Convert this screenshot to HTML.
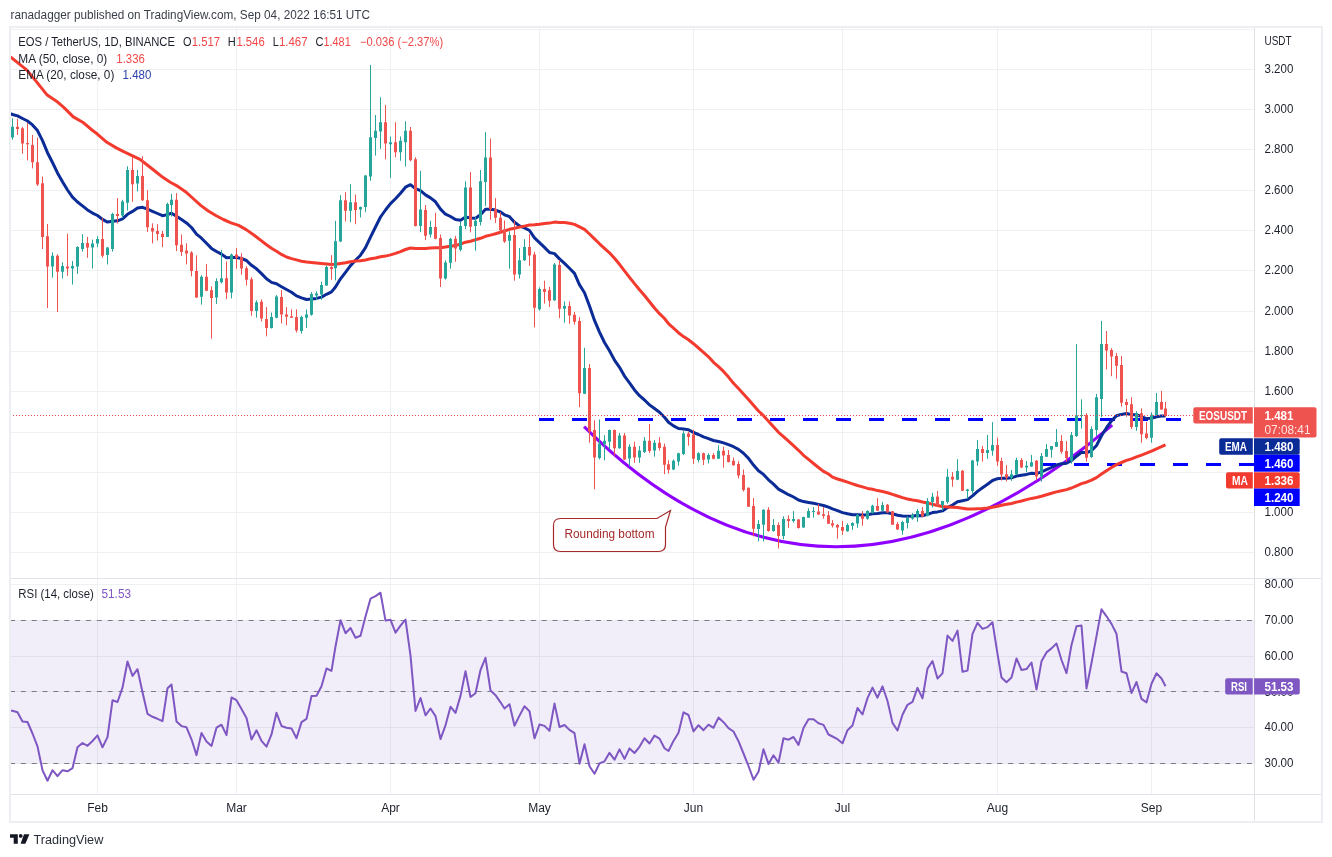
<!DOCTYPE html>
<html><head><meta charset="utf-8"><title>EOS / TetherUS chart</title>
<style>html,body{margin:0;padding:0;background:#fff;}body{width:1332px;height:857px;overflow:hidden;}svg{display:block;}</style>
</head><body>
<svg width="1332" height="857" viewBox="0 0 1332 857" font-family="Liberation Sans, Arial, sans-serif">
<defs>
<clipPath id="cm"><rect x="10" y="27" width="1244" height="551"/></clipPath>
<clipPath id="cr"><rect x="10" y="579" width="1244" height="215"/></clipPath>
</defs>
<rect width="1332" height="857" fill="#ffffff"/>
<path d="M10 29.5H1254M10 69.5H1254M10 109.5H1254M10 149.5H1254M10 190.5H1254M10 230.5H1254M10 270.5H1254M10 311.5H1254M10 351.5H1254M10 391.5H1254M10 432.5H1254M10 472.5H1254M10 512.5H1254M10 552.5H1254M10 584.5H1254M10 620.5H1254M10 656.5H1254M10 691.5H1254M10 727.5H1254M10 763.5H1254M97.5 27V794M236.5 27V794M390.5 27V794M539.5 27V794M693.5 27V794M842.5 27V794M997.5 27V794M1151.5 27V794" stroke="#eff0f2" stroke-width="1" fill="none"/>
<rect x="10" y="620.5" width="1244" height="143.0" fill="#7e57c2" fill-opacity="0.1"/>
<path d="M10 620.5H1254M10 691.5H1254M10 763.5H1254" stroke="#787b86" stroke-width="1" stroke-dasharray="5 5.85" fill="none"/>
<g clip-path="url(#cm)">
<path d="M539 419.5H1181" stroke="#0000ff" stroke-width="3" stroke-dasharray="15 18" fill="none"/>
<path d="M1041 464.5H1254" stroke="#0000ff" stroke-width="3" stroke-dasharray="15 18" fill="none"/>
<path d="M584.1 426.6Q826.1 667.6 1112.2 425.1" stroke="#9000ff" stroke-width="3" fill="none" stroke-linecap="butt"/>
<polyline points="8.1,113.0 12.5,114.5 17.5,115.9 22.5,118.5 27.5,121.0 32.5,124.9 37.5,130.6 42.5,140.7 47.5,152.7 52.5,162.5 57.5,172.9 62.5,181.7 67.5,190.0 72.5,197.2 77.5,202.0 82.5,205.9 87.5,209.9 92.5,213.1 97.5,215.5 102.5,219.4 107.5,222.1 112.5,221.3 117.5,220.8 122.5,218.9 127.5,214.3 132.5,211.4 137.5,208.0 142.5,207.3 147.5,209.2 152.5,211.3 157.5,213.5 162.5,215.7 167.5,214.6 171.5,213.2 176.5,216.2 181.5,219.6 186.5,222.9 191.5,227.5 196.5,234.1 201.5,238.2 206.5,243.2 211.5,248.4 216.5,251.5 221.5,254.1 226.5,257.8 231.5,257.4 236.5,257.5 241.5,258.5 246.5,260.5 251.5,265.3 256.5,268.8 261.5,273.6 266.5,278.8 271.5,282.4 276.5,283.7 281.5,286.7 286.5,289.5 291.5,292.2 296.5,295.9 301.5,297.9 306.5,299.5 311.5,298.9 316.5,298.4 321.5,297.1 326.5,294.3 331.5,291.9 335.5,287.0 340.5,278.8 345.5,272.3 350.5,265.6 355.5,260.3 360.5,255.2 365.5,247.7 370.5,237.2 375.5,227.0 380.5,217.0 385.5,210.0 390.5,203.6 395.5,198.7 400.5,193.2 405.5,187.2 410.5,184.7 415.5,188.6 420.5,190.6 425.5,194.9 430.5,197.9 435.5,201.8 440.5,209.1 445.5,214.2 450.5,216.5 455.5,219.6 460.5,220.2 465.5,217.1 470.5,218.0 475.5,218.3 480.5,214.8 485.5,209.3 490.5,209.3 495.5,210.1 500.5,212.0 504.5,214.8 509.5,216.7 514.5,222.2 519.5,225.9 524.5,227.9 529.5,230.5 534.5,237.9 539.5,242.7 544.5,247.4 549.5,252.5 554.5,253.6 559.5,258.9 564.5,263.4 569.5,268.3 574.5,273.4 579.5,284.8 584.5,292.7 589.5,306.0 594.5,320.4 599.5,332.1 604.5,342.5 609.5,350.8 614.5,360.1 619.5,367.3 624.5,376.1 629.5,382.8 634.5,389.9 639.5,395.7 644.5,400.0 649.5,404.9 654.5,408.5 659.5,412.2 664.5,417.2 668.5,422.2 673.5,425.9 678.5,428.5 683.5,429.0 688.5,429.7 693.5,432.5 698.5,434.5 703.5,436.9 708.5,438.6 713.5,440.5 718.5,441.5 723.5,442.9 728.5,444.7 733.5,446.7 738.5,449.4 743.5,453.3 748.5,458.4 753.5,465.1 758.5,470.7 763.5,474.4 768.5,479.8 773.5,484.1 778.5,489.1 783.5,491.9 788.5,494.7 793.5,497.0 798.5,500.0 803.5,501.6 808.5,502.5 813.5,503.3 818.5,504.4 823.5,505.5 828.5,507.2 832.5,508.9 837.5,510.7 842.5,512.6 847.5,513.8 852.5,514.7 857.5,514.7 862.5,515.1 867.5,514.7 872.5,513.8 877.5,513.5 882.5,512.7 887.5,512.7 892.5,513.8 897.5,515.3 902.5,516.0 907.5,516.2 912.5,516.0 917.5,515.6 922.5,515.7 927.5,514.3 932.5,512.6 937.5,511.9 942.5,510.9 947.5,507.6 952.5,505.0 957.5,501.7 962.5,500.7 967.5,499.6 972.5,495.9 977.5,491.4 982.5,487.8 987.5,484.2 992.5,480.5 997.5,478.7 1001.5,478.3 1006.5,478.2 1011.5,477.8 1016.5,476.1 1021.5,475.3 1026.5,474.4 1031.5,473.3 1036.5,473.6 1041.5,471.9 1046.5,469.7 1051.5,467.5 1056.5,465.0 1061.5,463.8 1066.5,463.2 1071.5,460.5 1076.5,456.2 1081.5,452.3 1086.5,452.8 1091.5,450.6 1096.5,445.5 1101.5,435.8 1106.5,427.7 1111.5,420.9 1116.5,415.7 1121.5,414.4 1126.5,413.5 1131.5,414.8 1136.5,414.7 1141.5,416.6 1146.5,418.6 1151.5,418.2 1156.5,416.7 1161.5,416.0 1165.5,416.0" stroke="#0b2b97" stroke-width="3" fill="none" stroke-linejoin="round"/>
<polyline points="8.0,55.5 10.8,57.2 17.3,62.4 26.7,69.9 36.0,81.1 47.2,95.1 56.5,101.2 64.0,107.6 73.3,116.9 82.7,122.2 92.0,130.0 97.6,134.3 106.9,142.3 116.3,147.9 123.7,151.7 133.1,156.1 140.0,159.4 147.6,165.2 155.2,171.2 162.8,177.3 170.3,182.2 177.9,186.4 185.5,191.7 193.1,198.5 200.7,205.4 208.3,211.0 215.8,215.5 223.4,219.5 231.0,222.8 238.6,225.4 246.2,229.6 253.8,235.0 256.5,237.0 261.5,240.9 266.5,244.8 271.5,248.3 276.5,251.3 281.5,254.4 286.5,257.0 291.5,258.6 296.5,259.9 301.5,261.2 306.5,262.0 311.5,262.6 316.5,263.1 321.5,263.5 326.5,263.9 331.5,264.4 335.5,264.2 340.5,263.4 345.5,262.8 350.5,261.7 355.5,261.0 360.5,260.8 365.5,260.0 370.5,258.8 375.5,258.0 380.5,256.7 385.5,256.1 390.5,254.9 395.5,253.4 400.5,251.6 405.5,249.5 410.5,248.0 415.5,248.5 420.5,248.6 425.5,248.5 430.5,248.0 435.5,247.7 440.5,247.8 445.5,247.1 450.5,246.3 455.5,245.5 460.5,244.1 465.5,242.2 470.5,241.2 475.5,239.7 480.5,238.3 485.5,236.3 490.5,235.1 495.5,233.8 500.5,232.2 504.5,231.0 509.5,229.3 514.5,228.3 519.5,227.1 524.5,226.1 529.5,225.0 534.5,224.8 539.5,224.2 544.5,223.4 549.5,223.1 554.5,222.1 559.5,222.4 564.5,222.6 569.5,223.3 574.5,224.4 579.5,226.8 584.5,229.4 589.5,234.0 594.5,238.9 599.5,243.8 604.5,248.4 609.5,252.8 614.5,258.3 619.5,264.3 624.5,270.8 629.5,277.3 634.5,283.6 639.5,289.8 644.5,295.5 649.5,301.7 654.5,308.0 659.5,313.7 664.5,318.5 668.5,323.7 673.5,328.2 678.5,332.7 683.5,336.6 688.5,339.8 693.5,343.7 698.5,348.0 703.5,352.3 708.5,356.8 713.5,362.3 718.5,366.7 723.5,371.4 728.5,377.1 733.5,383.2 738.5,388.5 743.5,394.0 748.5,399.5 753.5,405.3 758.5,411.0 763.5,415.7 768.5,421.2 773.5,426.7 778.5,432.3 783.5,436.6 788.5,441.2 793.5,445.7 798.5,450.3 803.5,455.3 808.5,459.4 813.5,463.5 818.5,467.5 823.5,471.4 828.5,474.0 832.5,477.1 837.5,479.0 842.5,480.5 847.5,482.1 852.5,483.8 857.5,485.5 862.5,486.9 867.5,488.4 872.5,489.3 877.5,490.6 882.5,491.5 887.5,492.8 892.5,494.4 897.5,496.0 902.5,497.6 907.5,499.0 912.5,500.0 917.5,500.8 922.5,502.0 927.5,502.9 932.5,504.2 937.5,505.5 942.5,506.4 947.5,506.9 952.5,507.3 957.5,507.6 962.5,508.2 967.5,509.0 972.5,509.1 977.5,508.8 982.5,508.6 987.5,508.1 992.5,507.2 997.5,506.3 1001.5,505.2 1006.5,504.3 1011.5,503.5 1016.5,502.1 1021.5,501.0 1026.5,499.6 1031.5,498.4 1036.5,497.5 1041.5,496.3 1046.5,494.7 1051.5,493.3 1056.5,491.9 1061.5,490.7 1066.5,489.6 1071.5,488.0 1076.5,485.8 1081.5,483.6 1086.5,482.2 1091.5,480.2 1096.5,477.6 1101.5,474.0 1106.5,470.7 1111.5,467.5 1116.5,464.6 1121.5,462.5 1126.5,460.4 1131.5,458.9 1136.5,456.9 1141.5,455.1 1146.5,453.2 1151.5,451.1 1156.5,448.8 1161.5,446.7 1165.5,444.8" stroke="#f33a2e" stroke-width="3" fill="none" stroke-linejoin="round"/>
<path d="M12.5 118.3V139.7M52.5 252.4V277.7M62.5 262.4V278.5M72.5 261.0V284.6M77.5 246.3V273.9M82.5 234.2V251.6M92.5 239.6V268.5M97.5 236.3V247.1M107.5 247.1V264.5M112.5 212.7V251.6M122.5 199.8V218.1M127.5 166.3V210.6M137.5 169.9V191.4M167.5 202.7V236.9M171.5 193.8V216.6M201.5 275.2V304.6M216.5 278.3V303.9M221.5 250.0V283.5M231.5 253.6V298.4M256.5 300.3V317.7M271.5 312.5V328.6M276.5 295.1V318.2M301.5 315.7V333.6M306.5 309.4V327.9M311.5 292.1V315.7M316.5 291.3V299.8M321.5 281.7V299.8M326.5 265.7V285.9M335.5 220.8V280.5M340.5 195.1V242.2M350.5 184.2V222.2M360.5 206.5V217.4M365.5 175.1V212.2M370.5 65.0V180.8M375.5 115.0V155.6M380.5 97.3V148.8M390.5 136.5V177.9M400.5 136.5V160.8M405.5 121.3V166.5M420.5 170.8V232.2M430.5 220.8V237.6M445.5 260.3V279.6M450.5 238.0V268.7M460.5 221.9V251.3M465.5 181.3V229.2M475.5 217.0V250.6M480.5 170.0V225.4M485.5 132.2V206.1M509.5 231.3V268.7M519.5 248.1V278.6M524.5 239.2V261.0M539.5 287.4V310.6M554.5 263.0V300.8M564.5 301.4V322.7M584.5 347.8V394.1M599.5 419.4V459.5M604.5 435.2V460.4M609.5 429.6V449.2M619.5 433.0V448.7M629.5 444.2V466.6M639.5 446.0V462.9M644.5 437.1V453.0M654.5 439.9V456.7M673.5 459.4V470.0M678.5 452.7V465.7M683.5 430.8V455.1M698.5 452.3V462.5M708.5 453.2V463.5M718.5 445.2V459.0M758.5 520.1V541.5M763.5 509.3V541.5M773.5 519.1V531.7M783.5 516.3V539.4M793.5 511.1V522.6M803.5 516.7V527.9M808.5 508.3V517.7M813.5 507.2V517.7M847.5 523.3V531.7M852.5 522.2V529.9M857.5 514.1V527.8M867.5 510.3V519.7M872.5 504.7V513.5M882.5 501.9V511.3M902.5 520.8V534.8M907.5 516.3V528.5M912.5 513.1V519.7M917.5 508.9V521.9M927.5 498.1V516.3M932.5 492.8V507.5M942.5 500.8V510.6M947.5 468.9V503.6M957.5 459.1V480.1M967.5 488.9V498.7M972.5 459.9V493.5M977.5 439.9V465.8M987.5 435.0V458.8M992.5 422.1V455.7M1011.5 470.0V480.9M1016.5 457.7V474.9M1026.5 460.9V472.1M1031.5 454.9V466.9M1041.5 453.1V481.7M1046.5 444.1V456.8M1051.5 446.1V457.7M1056.5 429.0V447.0M1071.5 432.0V463.7M1076.5 344.1V437.0M1081.5 399.3V428.6M1091.5 426.4V457.9M1096.5 394.0V436.0M1101.5 320.9V417.1M1136.5 411.2V430.8M1151.5 412.4V442.7M1156.5 393.1V415.9" stroke="#26a69a" stroke-width="1" fill="none"/>
<path d="M11 126.8h3V137.6h-3ZM51 255.7h3V266.4h-3ZM61 265.9h3V271.8h-3ZM71 265.9h3V268.5h-3ZM76 247.1h3V266.4h-3ZM81 243.0h3V249.0h-3ZM91 243.6h3V247.6h-3ZM96 239.0h3V243.6h-3ZM106 247.6h3V255.1h-3ZM111 214.1h3V249.0h-3ZM121 201.4h3V215.4h-3ZM126 169.9h3V202.7h-3ZM136 175.9h3V183.5h-3ZM166 204.1h3V236.9h-3ZM170 199.8h3V205.1h-3ZM200 276.8h3V296.7h-3ZM215 281.1h3V297.4h-3ZM220 278.3h3V282.3h-3ZM230 254.4h3V292.6h-3ZM255 302.3h3V310.9h-3ZM270 317.1h3V327.9h-3ZM275 296.5h3V317.7h-3ZM300 317.1h3V331.1h-3ZM305 314.4h3V317.7h-3ZM310 294.0h3V314.8h-3ZM315 293.6h3V295.5h-3ZM320 284.9h3V294.6h-3ZM325 267.0h3V285.5h-3ZM334 241.2h3V268.2h-3ZM339 200.2h3V241.4h-3ZM349 202.2h3V210.8h-3ZM359 207.1h3V209.4h-3ZM364 175.6h3V207.1h-3ZM369 137.3h3V176.5h-3ZM374 130.8h3V137.9h-3ZM379 122.2h3V131.6h-3ZM389 142.2h3V144.2h-3ZM399 140.8h3V152.2h-3ZM404 130.8h3V142.2h-3ZM419 209.4h3V226.0h-3ZM429 227.1h3V234.5h-3ZM444 262.4h3V278.6h-3ZM449 238.7h3V262.8h-3ZM459 226.1h3V249.8h-3ZM464 187.6h3V226.1h-3ZM474 220.8h3V226.1h-3ZM479 181.3h3V221.9h-3ZM484 157.4h3V182.0h-3ZM508 235.1h3V240.8h-3ZM518 260.3h3V274.4h-3ZM523 247.0h3V260.2h-3ZM538 289.1h3V309.2h-3ZM553 264.4h3V300.3h-3ZM563 305.9h3V308.7h-3ZM583 368.0h3V393.8h-3ZM598 443.6h3V458.0h-3ZM603 440.8h3V444.2h-3ZM608 430.0h3V441.8h-3ZM618 435.6h3V448.3h-3ZM628 446.8h3V458.6h-3ZM638 450.5h3V457.6h-3ZM643 440.8h3V452.0h-3ZM653 442.7h3V450.5h-3ZM672 460.7h3V469.5h-3ZM677 453.2h3V461.6h-3ZM682 433.6h3V454.1h-3ZM697 453.2h3V460.1h-3ZM707 455.1h3V459.4h-3ZM717 450.8h3V458.8h-3ZM757 524.0h3V528.9h-3ZM762 509.7h3V524.7h-3ZM772 525.1h3V531.0h-3ZM782 519.1h3V535.9h-3ZM792 519.1h3V520.9h-3ZM802 517.0h3V527.5h-3ZM807 511.1h3V517.7h-3ZM812 511.1h3V512.1h-3ZM846 525.0h3V531.3h-3ZM851 522.9h3V525.7h-3ZM856 514.9h3V523.6h-3ZM866 511.0h3V518.7h-3ZM871 505.7h3V513.1h-3ZM881 505.1h3V510.7h-3ZM901 521.9h3V530.6h-3ZM906 518.0h3V522.9h-3ZM911 514.9h3V518.7h-3ZM916 511.0h3V517.3h-3ZM926 500.9h3V515.9h-3ZM931 496.7h3V501.9h-3ZM941 501.1h3V505.0h-3ZM946 476.7h3V501.9h-3ZM956 471.1h3V479.8h-3ZM966 489.6h3V491.0h-3ZM971 460.5h3V491.0h-3ZM976 449.0h3V461.6h-3ZM986 450.1h3V452.9h-3ZM991 445.1h3V450.7h-3ZM1010 474.2h3V477.7h-3ZM1015 459.9h3V474.5h-3ZM1025 465.8h3V467.5h-3ZM1030 462.3h3V466.5h-3ZM1040 455.9h3V476.8h-3ZM1045 449.0h3V456.8h-3ZM1050 446.1h3V449.8h-3ZM1055 442.1h3V446.8h-3ZM1070 435.0h3V460.8h-3ZM1075 415.5h3V436.0h-3ZM1080 414.9h3V415.9h-3ZM1090 429.0h3V457.0h-3ZM1095 397.2h3V429.9h-3ZM1100 344.1h3V398.9h-3ZM1135 413.6h3V426.9h-3ZM1150 414.7h3V437.8h-3ZM1155 401.9h3V415.0h-3Z" fill="#26a69a"/>
<path d="M17.5 118.8V134.9M22.5 126.8V153.7M27.5 122.8V160.4M32.5 134.9V168.4M37.5 137.6V185.9M42.5 176.5V249.0M47.5 224.0V308.0M57.5 254.3V312.0M67.5 233.7V275.8M87.5 236.9V257.8M102.5 218.1V257.8M117.5 198.0V223.5M132.5 156.7V201.7M142.5 156.3V201.0M147.5 190.2V232.1M152.5 223.3V243.3M157.5 224.2V240.5M162.5 230.9V247.2M176.5 193.1V251.2M181.5 234.5V256.0M186.5 243.3V264.4M191.5 251.2V276.4M196.5 255.3V297.9M206.5 263.9V291.2M211.5 286.4V338.6M226.5 261.5V299.1M236.5 248.1V268.7M241.5 253.2V274.7M246.5 266.3V285.5M251.5 277.2V315.7M261.5 299.4V321.5M266.5 307.1V336.3M281.5 290.1V323.4M286.5 307.1V325.4M291.5 309.4V317.7M296.5 309.4V332.5M331.5 255.1V279.7M345.5 192.2V221.4M355.5 194.5V224.2M385.5 105.0V159.3M395.5 122.2V157.3M410.5 127.0V161.3M415.5 157.3V226.5M425.5 205.1V240.2M435.5 212.8V239.3M440.5 234.5V287.0M455.5 235.9V261.8M470.5 172.1V232.4M490.5 138.5V219.8M495.5 198.1V222.9M500.5 212.0V233.4M504.5 220.4V242.9M514.5 220.8V280.7M529.5 234.2V265.8M534.5 251.8V327.4M544.5 280.6V303.6M549.5 286.8V307.0M559.5 260.2V318.2M569.5 301.4V323.8M574.5 312.0V324.6M579.5 317.1V407.2M589.5 363.9V442.7M594.5 420.3V489.4M614.5 429.6V455.8M624.5 433.0V459.9M634.5 441.8V462.9M649.5 424.0V453.0M659.5 437.1V450.5M664.5 443.6V474.1M668.5 460.4V473.5M688.5 431.7V445.7M693.5 429.9V463.9M703.5 452.7V465.0M713.5 453.2V459.4M723.5 446.7V467.6M728.5 450.0V462.5M733.5 457.5V465.7M738.5 461.2V478.4M743.5 469.5V491.5M748.5 487.4V506.8M753.5 498.0V536.3M768.5 507.2V531.7M778.5 522.3V548.5M788.5 515.3V527.9M798.5 519.1V528.5M818.5 504.1V514.9M823.5 507.2V518.7M828.5 511.1V524.0M832.5 520.1V527.5M837.5 524.0V538.7M842.5 520.9V534.9M862.5 511.0V525.7M877.5 498.1V510.7M887.5 504.0V512.7M892.5 511.0V524.7M897.5 521.9V529.9M922.5 507.1V516.9M937.5 491.0V506.4M952.5 472.1V486.8M962.5 470.0V491.0M982.5 445.9V461.6M997.5 437.8V465.8M1001.5 457.7V480.5M1006.5 465.1V481.5M1021.5 458.1V467.9M1036.5 460.0V480.5M1061.5 435.1V453.7M1066.5 441.1V461.7M1086.5 413.2V461.8M1106.5 331.0V369.5M1111.5 348.2V376.2M1116.5 352.9V378.6M1121.5 355.9V406.6M1126.5 398.9V416.8M1131.5 397.2V429.0M1141.5 408.4V442.7M1146.5 422.0V439.2M1161.5 390.9V410.1M1165.5 401.9V417.1" stroke="#ef5350" stroke-width="1" fill="none"/>
<path d="M16 126.8h3V129.0h-3ZM21 128.2h3V143.5h-3ZM26 142.9h3V144.3h-3ZM31 145.1h3V162.3h-3ZM36 162.3h3V184.5h-3ZM41 183.2h3V236.9h-3ZM46 236.3h3V266.4h-3ZM56 255.7h3V271.8h-3ZM66 266.4h3V268.5h-3ZM86 243.0h3V247.6h-3ZM101 239.0h3V255.7h-3ZM116 214.1h3V215.9h-3ZM131 169.9h3V184.3h-3ZM141 175.9h3V200.3h-3ZM146 200.3h3V227.3h-3ZM151 228.0h3V231.4h-3ZM156 230.9h3V234.0h-3ZM161 233.8h3V236.9h-3ZM175 199.8h3V245.3h-3ZM180 244.8h3V252.0h-3ZM185 250.5h3V253.6h-3ZM190 252.4h3V271.1h-3ZM195 271.1h3V297.4h-3ZM205 276.8h3V290.7h-3ZM210 290.2h3V297.9h-3ZM225 278.3h3V292.6h-3ZM235 254.4h3V257.7h-3ZM240 257.0h3V268.6h-3ZM245 268.2h3V279.7h-3ZM250 279.2h3V310.9h-3ZM260 301.7h3V318.6h-3ZM265 319.0h3V327.9h-3ZM280 297.1h3V314.4h-3ZM285 314.4h3V316.7h-3ZM290 316.3h3V317.7h-3ZM295 317.1h3V330.6h-3ZM330 267.0h3V268.9h-3ZM344 200.2h3V210.8h-3ZM354 202.2h3V209.9h-3ZM384 122.2h3V143.6h-3ZM394 142.2h3V152.2h-3ZM409 130.8h3V160.2h-3ZM414 159.3h3V226.0h-3ZM424 209.9h3V235.7h-3ZM434 227.1h3V238.7h-3ZM439 238.0h3V278.6h-3ZM454 238.7h3V248.5h-3ZM469 187.6h3V226.7h-3ZM489 157.4h3V209.3h-3ZM494 209.3h3V217.7h-3ZM499 217.7h3V230.3h-3ZM503 229.2h3V241.4h-3ZM513 235.1h3V274.4h-3ZM528 247.0h3V255.4h-3ZM533 254.6h3V307.8h-3ZM543 289.1h3V291.9h-3ZM548 290.2h3V300.8h-3ZM558 265.0h3V308.7h-3ZM568 305.9h3V315.4h-3ZM573 314.8h3V321.8h-3ZM578 321.0h3V393.2h-3ZM588 368.0h3V431.5h-3ZM593 430.0h3V457.6h-3ZM613 430.0h3V448.3h-3ZM623 435.6h3V459.5h-3ZM633 446.8h3V457.6h-3ZM648 440.8h3V451.1h-3ZM658 442.7h3V447.9h-3ZM663 446.8h3V464.7h-3ZM667 464.2h3V469.8h-3ZM687 433.6h3V437.0h-3ZM692 434.5h3V458.8h-3ZM702 453.2h3V459.7h-3ZM712 455.1h3V458.8h-3ZM722 450.8h3V455.6h-3ZM727 455.1h3V462.0h-3ZM732 460.7h3V465.3h-3ZM737 463.9h3V475.6h-3ZM742 475.1h3V490.0h-3ZM747 487.8h3V506.8h-3ZM752 506.0h3V528.8h-3ZM767 509.7h3V531.0h-3ZM777 525.1h3V535.9h-3ZM787 519.1h3V520.9h-3ZM797 519.5h3V527.9h-3ZM817 511.4h3V514.5h-3ZM822 514.2h3V515.9h-3ZM827 515.3h3V523.7h-3ZM831 523.3h3V525.4h-3ZM836 525.1h3V527.5h-3ZM841 527.1h3V530.7h-3ZM861 515.2h3V518.7h-3ZM876 506.1h3V510.7h-3ZM886 504.7h3V512.4h-3ZM891 511.3h3V524.7h-3ZM896 523.9h3V529.5h-3ZM921 511.0h3V516.6h-3ZM936 496.6h3V505.7h-3ZM951 476.7h3V479.5h-3ZM961 470.7h3V490.7h-3ZM981 449.0h3V452.9h-3ZM996 445.1h3V461.6h-3ZM1000 460.9h3V474.5h-3ZM1005 474.2h3V477.7h-3ZM1020 459.9h3V467.5h-3ZM1035 460.8h3V476.5h-3ZM1060 441.1h3V451.7h-3ZM1065 451.0h3V458.0h-3ZM1085 415.1h3V457.8h-3ZM1105 344.1h3V350.6h-3ZM1110 349.9h3V356.4h-3ZM1115 355.9h3V365.7h-3ZM1120 365.1h3V402.8h-3ZM1125 401.9h3V404.9h-3ZM1130 404.2h3V426.9h-3ZM1140 413.3h3V434.3h-3ZM1145 433.4h3V438.1h-3ZM1160 401.9h3V409.4h-3ZM1164 408.4h3V415.9h-3Z" fill="#ef5350"/>
</g>
<path d="M10 415.5H1193" stroke="#ef5350" stroke-width="1" stroke-dasharray="1 2" fill="none"/>
<path d="M560.5 518.5H657L670.5 510.5L665.5 527V544.5Q665.5 551.5 658.5 551.5H560.5Q553.5 551.5 553.5 544.5V525.5Q553.5 518.5 560.5 518.5Z" fill="#ffffff" stroke="#a52a2a" stroke-width="1.2"/>
<text x="564.5" y="538" font-size="12" fill="#a52a2a" textLength="90" lengthAdjust="spacingAndGlyphs">Rounding bottom</text>
<g clip-path="url(#cr)">
<polyline points="8.1,710.8 12.5,710.8 17.5,712.2 22.5,721.5 27.5,722.0 32.5,733.5 37.5,746.4 42.5,770.2 47.5,780.7 52.5,770.2 57.5,776.2 62.5,770.2 67.5,771.3 72.5,768.2 77.5,747.3 82.5,743.0 87.5,745.8 92.5,741.0 97.5,735.4 102.5,747.3 107.5,737.1 112.5,700.3 117.5,702.0 122.5,687.7 127.5,661.5 132.5,675.9 137.5,669.2 142.5,692.3 147.5,713.8 152.5,716.8 157.5,718.8 162.5,721.1 167.5,688.3 171.5,684.5 176.5,721.5 181.5,726.1 186.5,727.3 191.5,739.3 196.5,755.1 201.5,732.9 206.5,741.5 211.5,745.9 216.5,727.7 221.5,724.7 226.5,735.1 231.5,697.5 236.5,700.2 241.5,709.1 246.5,717.9 251.5,739.4 256.5,730.3 261.5,740.9 266.5,746.7 271.5,734.4 276.5,712.8 281.5,726.0 286.5,727.7 291.5,728.4 296.5,738.2 301.5,722.1 306.5,718.9 311.5,696.1 316.5,695.7 321.5,686.3 326.5,668.5 331.5,670.9 335.5,646.5 340.5,620.2 345.5,633.2 350.5,628.0 355.5,637.8 360.5,635.8 365.5,616.5 370.5,598.7 375.5,596.1 380.5,592.7 385.5,620.6 390.5,619.8 395.5,632.7 400.5,625.6 405.5,619.6 410.5,655.7 415.5,710.9 420.5,698.0 425.5,715.3 430.5,708.5 435.5,716.1 440.5,739.1 445.5,725.3 450.5,706.7 455.5,712.9 460.5,695.9 465.5,671.2 470.5,697.0 475.5,693.2 480.5,670.0 485.5,657.8 490.5,690.5 495.5,695.2 500.5,702.3 504.5,708.5 509.5,704.2 514.5,725.7 519.5,715.6 524.5,706.3 529.5,711.3 534.5,738.3 539.5,724.5 544.5,725.9 549.5,730.7 554.5,703.6 559.5,727.0 564.5,725.0 569.5,729.9 574.5,733.2 579.5,763.7 584.5,744.2 589.5,766.2 594.5,773.7 599.5,763.4 604.5,761.3 609.5,752.8 614.5,759.7 619.5,749.4 624.5,758.9 629.5,748.4 634.5,753.0 639.5,746.8 644.5,738.2 649.5,743.5 654.5,735.6 659.5,738.6 664.5,748.2 668.5,751.0 673.5,740.9 678.5,732.7 683.5,712.3 688.5,715.0 693.5,731.4 698.5,725.2 703.5,730.2 708.5,724.7 713.5,727.8 718.5,717.6 723.5,722.2 728.5,728.2 733.5,731.5 738.5,741.2 743.5,753.5 748.5,766.0 753.5,779.7 758.5,771.7 763.5,749.2 768.5,764.1 773.5,755.3 778.5,762.8 783.5,738.2 788.5,739.7 793.5,737.0 798.5,744.9 803.5,728.0 808.5,719.2 813.5,719.2 818.5,723.2 823.5,724.9 828.5,734.5 832.5,736.5 837.5,739.2 842.5,743.3 847.5,730.2 852.5,725.5 857.5,707.9 862.5,714.5 867.5,698.1 872.5,687.6 877.5,697.7 882.5,686.3 887.5,701.0 892.5,722.9 897.5,730.5 902.5,714.7 907.5,704.8 912.5,701.9 917.5,687.9 922.5,698.4 927.5,668.6 932.5,661.0 937.5,678.5 942.5,673.4 947.5,635.6 952.5,640.9 957.5,630.6 962.5,671.8 967.5,670.6 972.5,633.9 977.5,622.8 982.5,628.9 987.5,627.1 992.5,622.2 997.5,653.9 1001.5,677.6 1006.5,682.3 1011.5,677.6 1016.5,658.4 1021.5,670.0 1026.5,669.1 1031.5,662.5 1036.5,689.6 1041.5,661.3 1046.5,652.4 1051.5,648.4 1056.5,643.5 1061.5,660.0 1066.5,673.1 1071.5,644.9 1076.5,626.2 1081.5,625.6 1086.5,688.5 1091.5,663.0 1096.5,636.1 1101.5,609.3 1106.5,616.3 1111.5,623.9 1116.5,633.8 1121.5,671.5 1126.5,673.2 1131.5,693.1 1136.5,682.0 1141.5,698.9 1146.5,702.4 1151.5,683.8 1156.5,673.3 1161.5,678.5 1165.5,686.3" stroke="#7e57c2" stroke-width="2" fill="none" stroke-linejoin="round"/>
</g>
<path d="M10 578.5H1321M10 794.5H1321" stroke="#e0e3eb" stroke-width="1" fill="none"/>
<path d="M1254.5 27V821" stroke="#e0e1e5" stroke-width="1" fill="none"/>
<rect x="10" y="27" width="1312" height="795" fill="none" stroke="#eceef2" stroke-width="2"/>
<text x="1264.5" y="45" font-size="12" fill="#1c202b" textLength="27" lengthAdjust="spacingAndGlyphs">USDT</text>
<text x="1264.5" y="73" font-size="12" fill="#1c202b" textLength="28.8" lengthAdjust="spacingAndGlyphs">3.200</text>
<text x="1264.5" y="113" font-size="12" fill="#1c202b" textLength="28.8" lengthAdjust="spacingAndGlyphs">3.000</text>
<text x="1264.5" y="153" font-size="12" fill="#1c202b" textLength="28.8" lengthAdjust="spacingAndGlyphs">2.800</text>
<text x="1264.5" y="194" font-size="12" fill="#1c202b" textLength="28.8" lengthAdjust="spacingAndGlyphs">2.600</text>
<text x="1264.5" y="234" font-size="12" fill="#1c202b" textLength="28.8" lengthAdjust="spacingAndGlyphs">2.400</text>
<text x="1264.5" y="274" font-size="12" fill="#1c202b" textLength="28.8" lengthAdjust="spacingAndGlyphs">2.200</text>
<text x="1264.5" y="315" font-size="12" fill="#1c202b" textLength="28.8" lengthAdjust="spacingAndGlyphs">2.000</text>
<text x="1264.5" y="355" font-size="12" fill="#1c202b" textLength="28.8" lengthAdjust="spacingAndGlyphs">1.800</text>
<text x="1264.5" y="395" font-size="12" fill="#1c202b" textLength="28.8" lengthAdjust="spacingAndGlyphs">1.600</text>
<text x="1264.5" y="516" font-size="12" fill="#1c202b" textLength="28.8" lengthAdjust="spacingAndGlyphs">1.000</text>
<text x="1264.5" y="556" font-size="12" fill="#1c202b" textLength="28.8" lengthAdjust="spacingAndGlyphs">0.800</text>
<text x="1264.5" y="588" font-size="12" fill="#1c202b" textLength="29" lengthAdjust="spacingAndGlyphs">80.00</text>
<text x="1264.5" y="624" font-size="12" fill="#1c202b" textLength="29" lengthAdjust="spacingAndGlyphs">70.00</text>
<text x="1264.5" y="660" font-size="12" fill="#1c202b" textLength="29" lengthAdjust="spacingAndGlyphs">60.00</text>
<text x="1264.5" y="731" font-size="12" fill="#1c202b" textLength="29" lengthAdjust="spacingAndGlyphs">40.00</text>
<text x="1264.5" y="767" font-size="12" fill="#1c202b" textLength="29" lengthAdjust="spacingAndGlyphs">30.00</text>
<text x="97.5" y="812" font-size="12" fill="#1c202b" text-anchor="middle">Feb</text>
<text x="236.5" y="812" font-size="12" fill="#1c202b" text-anchor="middle">Mar</text>
<text x="390.5" y="812" font-size="12" fill="#1c202b" text-anchor="middle">Apr</text>
<text x="539.5" y="812" font-size="12" fill="#1c202b" text-anchor="middle">May</text>
<text x="693.5" y="812" font-size="12" fill="#1c202b" text-anchor="middle">Jun</text>
<text x="842.5" y="812" font-size="12" fill="#1c202b" text-anchor="middle">Jul</text>
<text x="997.5" y="812" font-size="12" fill="#1c202b" text-anchor="middle">Aug</text>
<text x="1151.5" y="812" font-size="12" fill="#1c202b" text-anchor="middle">Sep</text>
<path d="M1252.8 407.3H1195.3Q1193.3 407.3 1193.3 409.3V421.6Q1193.3 423.6 1195.3 423.6H1252.8Z" fill="#ef5350"/>
<path d="M1254 407.3H1314.5Q1316.5 407.3 1316.5 409.3V435.6Q1316.5 437.6 1314.5 437.6H1254Z" fill="#ef5350"/>
<text x="1199" y="420" font-size="12" fill="#ffffff" textLength="48" lengthAdjust="spacingAndGlyphs" font-weight="bold">EOSUSDT</text>
<text x="1264.5" y="420" font-size="12" fill="#ffffff" textLength="29" lengthAdjust="spacingAndGlyphs" font-weight="bold">1.481</text>
<text x="1264.5" y="433.5" font-size="12" fill="#ffffff" textLength="46" lengthAdjust="spacingAndGlyphs" fill-opacity="0.85">07:08:41</text>
<path d="M1252.8 438.3H1221.2Q1219.2 438.3 1219.2 440.3V452.7Q1219.2 454.7 1221.2 454.7H1252.8Z" fill="#0b2b97"/>
<path d="M1254 438.3H1297.7Q1299.7 438.3 1299.7 440.3V452.7Q1299.7 454.7 1297.7 454.7H1254Z" fill="#0b2b97"/>
<text x="1225" y="451" font-size="12" fill="#ffffff" textLength="22" lengthAdjust="spacingAndGlyphs" font-weight="bold">EMA</text>
<text x="1264.5" y="451" font-size="12" fill="#ffffff" textLength="29" lengthAdjust="spacingAndGlyphs" font-weight="bold">1.480</text>
<rect x="1254" y="454.7" width="45.7" height="17.0" fill="#0000ff"/>
<text x="1264.5" y="468" font-size="12" fill="#ffffff" textLength="29" lengthAdjust="spacingAndGlyphs" font-weight="bold">1.460</text>
<path d="M1252.8 472.2H1228Q1226 472.2 1226 474.2V486.5Q1226 488.5 1228 488.5H1252.8Z" fill="#f33a2e"/>
<path d="M1254 472.2H1297.7Q1299.7 472.2 1299.7 474.2V486.5Q1299.7 488.5 1297.7 488.5H1254Z" fill="#f33a2e"/>
<text x="1232" y="485" font-size="12" fill="#ffffff" textLength="16" lengthAdjust="spacingAndGlyphs" font-weight="bold">MA</text>
<text x="1264.5" y="485" font-size="12" fill="#ffffff" textLength="29" lengthAdjust="spacingAndGlyphs" font-weight="bold">1.336</text>
<rect x="1254" y="488.5" width="45.7" height="17.5" fill="#0000ff"/>
<text x="1264.5" y="502" font-size="12" fill="#ffffff" textLength="29" lengthAdjust="spacingAndGlyphs" font-weight="bold">1.240</text>
<text x="1264.5" y="696" font-size="12" fill="#1c202b" textLength="29" lengthAdjust="spacingAndGlyphs">50.00</text>
<path d="M1252.7 678.2H1227.2Q1225.2 678.2 1225.2 680.2V692.5Q1225.2 694.5 1227.2 694.5H1252.7Z" fill="#7e57c2"/>
<path d="M1254.1 678.2H1297.8Q1299.8 678.2 1299.8 680.2V692.5Q1299.8 694.5 1297.8 694.5H1254.1Z" fill="#7e57c2"/>
<text x="1231" y="691" font-size="12" fill="#ffffff" textLength="16" lengthAdjust="spacingAndGlyphs" font-weight="bold">RSI</text>
<text x="1264.5" y="691" font-size="12" fill="#ffffff" textLength="29" lengthAdjust="spacingAndGlyphs" font-weight="bold">51.53</text>
<text x="18.3" y="46" font-size="12" fill="#1c202b" textLength="156.6" lengthAdjust="spacingAndGlyphs">EOS / TetherUS, 1D, BINANCE</text>
<text x="183" y="46" font-size="12" fill="#1c202b" textLength="8.5" lengthAdjust="spacingAndGlyphs">O</text>
<text x="191.8" y="46" font-size="12" fill="#f04848" textLength="28.3" lengthAdjust="spacingAndGlyphs">1.517</text>
<text x="227.7" y="46" font-size="12" fill="#1c202b" textLength="8" lengthAdjust="spacingAndGlyphs">H</text>
<text x="236.4" y="46" font-size="12" fill="#f04848" textLength="28.3" lengthAdjust="spacingAndGlyphs">1.546</text>
<text x="272.8" y="46" font-size="12" fill="#1c202b" textLength="6" lengthAdjust="spacingAndGlyphs">L</text>
<text x="278.9" y="46" font-size="12" fill="#f04848" textLength="28.7" lengthAdjust="spacingAndGlyphs">1.467</text>
<text x="315.4" y="46" font-size="12" fill="#1c202b" textLength="8" lengthAdjust="spacingAndGlyphs">C</text>
<text x="323.5" y="46" font-size="12" fill="#f04848" textLength="27.2" lengthAdjust="spacingAndGlyphs">1.481</text>
<text x="359.9" y="46" font-size="12" fill="#f04848" textLength="83.3" lengthAdjust="spacingAndGlyphs">−0.036 (−2.37%)</text>
<text x="18.3" y="62.5" font-size="12" fill="#1c202b" textLength="89" lengthAdjust="spacingAndGlyphs">MA (50, close, 0)</text>
<text x="116.3" y="62.5" font-size="12" fill="#f04848" textLength="28.5" lengthAdjust="spacingAndGlyphs">1.336</text>
<text x="18.3" y="79" font-size="12" fill="#1c202b" textLength="96" lengthAdjust="spacingAndGlyphs">EMA (20, close, 0)</text>
<text x="122.6" y="79" font-size="12" fill="#2a44a8" textLength="28.8" lengthAdjust="spacingAndGlyphs">1.480</text>
<text x="18.3" y="598" font-size="12" fill="#1c202b" textLength="75.5" lengthAdjust="spacingAndGlyphs">RSI (14, close)</text>
<text x="101.5" y="598" font-size="12" fill="#7e57c2" textLength="29.5" lengthAdjust="spacingAndGlyphs">51.53</text>
<text x="10.5" y="18.7" font-size="12" fill="#3a3e49" textLength="359.5" lengthAdjust="spacingAndGlyphs">ranadagger published on TradingView.com, Sep 04, 2022 16:51 UTC</text>
<path d="M10 834.2H17.8V843.8H13.7V837.8H10Z" fill="#131722"/>
<circle cx="20.7" cy="835.9" r="1.9" fill="#131722"/>
<path d="M24 834.2H29.4L25.4 843.8H20.6Z" fill="#131722"/>
<text x="33.5" y="843.8" font-size="12.5" fill="#2a2e39" textLength="69.8" lengthAdjust="spacingAndGlyphs">TradingView</text>
</svg>
</body></html>
